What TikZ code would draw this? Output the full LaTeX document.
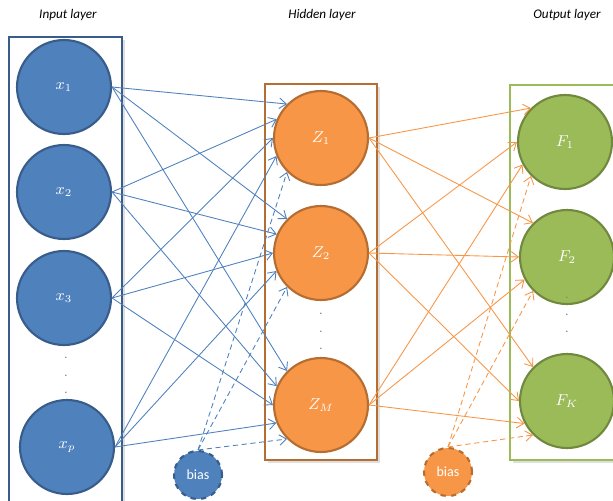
\documentclass[tikz,border=0pt]{standalone}
\usepackage{fontspec}
\setmainfont{Carlito}
\usetikzlibrary{arrows.meta,shadows}

\definecolor{inblue}{HTML}{4F81BD}
\definecolor{inline}{HTML}{385D8A}
\definecolor{hidorange}{HTML}{F79646}
\definecolor{hidline}{HTML}{B66D31}
\definecolor{outgreen}{HTML}{9BBB59}
\definecolor{outline}{HTML}{71893F}

\tikzset{
  unit/.style={circle, line width=1.2pt, minimum size=1.88cm, inner sep=0pt, text=white, font=\small},
  inunit/.style={unit, fill=inblue, draw=inline},
  hidunit/.style={unit, fill=hidorange, draw=hidline},
  outunit/.style={unit, fill=outgreen, draw=outline},
  biasunit/.style={circle, line width=1.2pt, dashed, minimum size=0.96cm, inner sep=0pt, text=white, font=\footnotesize},
  layerbox/.style={fill=white, line width=1.3pt, drop shadow={shadow xshift=1.5pt, shadow yshift=-1.5pt, opacity=0.25}},
  title/.style={font=\fontsize{7.5}{9}\selectfont\itshape},
  vdots/.style={text=gray, font=\scriptsize, inner sep=0pt},
  bluelink/.style={inblue, line width=0.5pt, -{Straight Barb[length=4pt,width=6pt]}},
  orangelink/.style={hidorange, line width=0.5pt, -{Straight Barb[length=4pt,width=6pt]}}
}

\begin{document}
\begin{tikzpicture}[x=0.02cm,y=-0.02cm]
\useasboundingbox (0,0) rectangle (613,501);

% Layer boxes
\draw[layerbox, draw=inline] (9,37) rectangle (122,515);
\draw[layerbox, draw=hidline] (265,84) rectangle (377,460);
\draw[layerbox, draw=outgreen] (510,85) rectangle (630,460);

% Titles
\node[title] (intitle) at (68,15) {Input layer};
\node[title] (hidtitle) at (322,15) {Hidden layer};
\node[title] (outtitle) at (567,15) {Output layer};

% Input layer
\node[inunit] (x1) at (64,87) {$x_1$};
\node[inunit] (x2) at (64,192) {$x_2$};
\node[inunit] (x3) at (64,298) {$x_3$};
\node[inunit] (xp) at (67,447) {$x_p$};
\foreach \y [count=\i] in {358,376,393}
  \node[vdots] (indot\i) at (66,\y) {.};

% Hidden layer
\node[hidunit] (z1) at (321,138) {$Z_1$};
\node[hidunit] (z2) at (321,253) {$Z_2$};
\node[hidunit] (zm) at (321,405) {$Z_M$};
\foreach \y [count=\i] in {314,332,349}
  \node[vdots] (hiddot\i) at (321,\y) {.};

% Output layer
\node[outunit] (f1) at (565,142) {$F_1$};
\node[outunit] (f2) at (567,257) {$F_2$};
\node[outunit] (fk) at (567,401) {$F_K$};
\foreach \y [count=\i] in {298,315,332}
  \node[vdots] (outdot\i) at (567,\y) {.};

% Bias units
\node[biasunit, fill=inblue, draw=inline] (bias1) at (198,475) {bias};
\node[biasunit, fill=hidorange, draw=hidline] (bias2) at (448,472) {bias};

% Input to hidden
\foreach \t in {z1,z2,zm}{
  \foreach \s/\a in {x1/135,x2/157.5,x3/180,xp/202.5}
    \draw[bluelink] (\s.east) -- (\t.\a);
  \draw[bluelink, densely dashed] (bias1.north) -- (\t.225);
}

% Hidden to output
\foreach \t in {f1,f2,fk}{
  \foreach \s/\a in {z1/135,z2/180,zm/208}
    \draw[orangelink] (\s.east) -- (\t.\a);
  \draw[orangelink, densely dashed] (bias2.north) -- (\t.225);
}
\end{tikzpicture}
\end{document}
